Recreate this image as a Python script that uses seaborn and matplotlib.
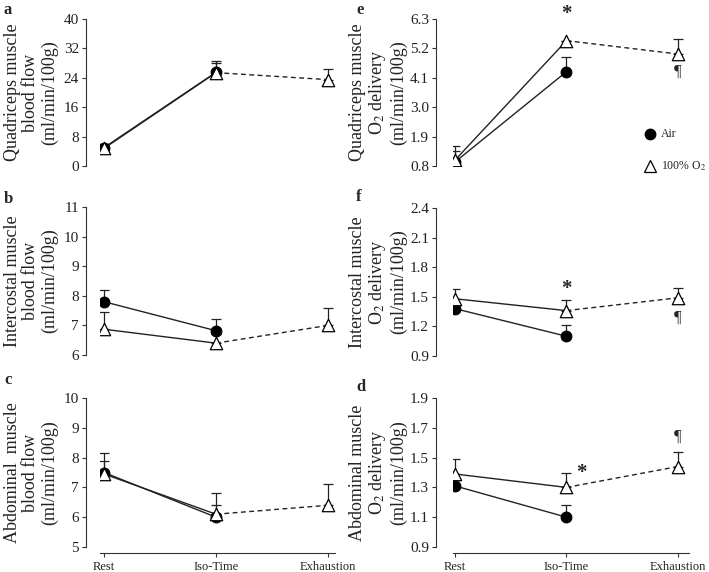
import numpy as np
import pandas as pd
import matplotlib
matplotlib.use("Agg")
import matplotlib.pyplot as plt
import seaborn as sns

sns.set_theme(style="ticks")
plt.rcParams['font.family'] = ['Liberation Serif', 'DejaVu Serif']
plt.rcParams['mathtext.fontset'] = 'stix'

stages = ["Rest", "Iso-Time", "Exhaustion"]

# panel a: quadriceps blood flow
a_air = [5.0, 25.5]
a_air_err = [1.0, 3.0]
a_o2 = [4.8, 25.4, 23.5]
a_o2_err = [1.3, 2.5, 3.0]
# panel b: intercostal blood flow
b_air = [7.8, 6.82]
b_air_err = [0.4, 0.4]
b_o2 = [6.87, 6.4, 7.0]
b_o2_err = [0.58, 0.3, 0.6]
# panel c: abdominal blood flow
c_air = [7.5, 6.0]
c_air_err = [0.4, 0.4]
c_o2 = [7.45, 6.1, 6.4]
c_o2_err = [0.7, 0.7, 0.7]
# panel e: quadriceps O2 delivery
e_air = [0.95, 4.33]
e_air_err = [0.4, 0.54]
e_o2 = [1.02, 5.49, 4.99]
e_o2_err = [0.53, 0.0, 0.55]
# panel f: intercostal O2 delivery
f_air = [1.38, 1.10]
f_air_err = [0.0, 0.11]
f_o2 = [1.48, 1.36, 1.49]
f_o2_err = [0.10, 0.11, 0.10]
# panel d: abdominal O2 delivery
d_air = [1.31, 1.10]
d_air_err = [0.04, 0.08]
d_o2 = [1.39, 1.30, 1.44]
d_o2_err = [0.10, 0.10, 0.10]

W, H = 709, 572
fig = plt.figure(figsize=(W / 100, H / 100), dpi=100)

def px_axes(x0, x1, ytop, ybot):
    return fig.add_axes([x0 / W, 1 - ybot / H, (x1 - x0) / W, (ybot - ytop) / H])

panels = [
    ("a", a_air, a_air_err, a_o2, a_o2_err, [0, 8, 16, 24, 32, 40], "{:g}",
     "Quadriceps muscle\nblood flow\n(ml/min/100g)", (100, 335, 19, 166), 86, (-0.036, 2.0625), False),
    ("b", b_air, b_air_err, b_o2, b_o2_err, [6, 7, 8, 9, 10, 11], "{:g}",
     "Intercostal muscle\nblood flow\n(ml/min/100g)", (100, 335, 207, 355), 86, (-0.036, 2.0625), False),
    ("c", c_air, c_air_err, c_o2, c_o2_err, [5, 6, 7, 8, 9, 10], "{:g}",
     "Abdominal  muscle\nblood flow\n(ml/min/100g)", (100, 335, 398, 547), 86, (-0.036, 2.0625), True),
    ("e", e_air, e_air_err, e_o2, e_o2_err, [0.8, 1.9, 3.0, 4.1, 5.2, 6.3], "{:.1f}",
     "Quadriceps muscle\nO$_2$ delivery\n(ml/min/100g)", (453, 689, 19, 166), 436, (-0.018, 2.099), False),
    ("f", f_air, f_air_err, f_o2, f_o2_err, [0.9, 1.2, 1.5, 1.8, 2.1, 2.4], "{:.1f}",
     "Intercostal muscle\nO$_2$ delivery\n(ml/min/100g)", (453, 689, 208, 356), 436, (-0.018, 2.099), False),
    ("d", d_air, d_air_err, d_o2, d_o2_err, [0.9, 1.1, 1.3, 1.5, 1.7, 1.9], "{:.1f}",
     "Abdominal muscle\nO$_2$ delivery\n(ml/min/100g)", (453, 689, 398, 547), 436, (-0.018, 2.099), True),
]

axes = {}
for (letter, air, air_err, o2, o2_err, yt, fmt, ylab, geom, spx, xl, bottom) in panels:
    x0, x1, yt0, yb0 = geom
    ax = px_axes(x0, x1, yt0, yb0)
    axes[letter] = ax
    ax.set_facecolor('none')
    xa = np.arange(len(air))
    xo = np.arange(len(o2))
    lc = '#222222'
    ax.errorbar(xa, air, yerr=[np.zeros(len(air)), air_err], fmt='none',
                ecolor=lc, elinewidth=0.9, capsize=3.5, capthick=0.9, zorder=2)
    ax.errorbar(xo, o2, yerr=[np.zeros(len(o2)), o2_err], fmt='none',
                ecolor=lc, elinewidth=0.9, capsize=3.5, capthick=0.9, zorder=2)
    sns.lineplot(x=xa, y=air, ax=ax, color=lc, lw=1.0, zorder=3)
    sns.lineplot(x=xo[:2], y=o2[:2], ax=ax, color=lc, lw=1.0, zorder=3)
    sns.lineplot(x=xo[1:], y=o2[1:], ax=ax, color=lc, lw=1.0, linestyle=(0, (3.5, 2.5)), zorder=3)
    sns.scatterplot(x=xa, y=air, ax=ax, marker='o', s=60, color='black',
                    edgecolor='black', linewidth=0.8, zorder=4)
    sns.scatterplot(x=xo, y=o2, ax=ax, marker='^', s=80, facecolor='white',
                    edgecolor='black', linewidth=0.9, zorder=5)
    ax.set_xlim(*xl)
    ax.set_ylim(yt[0], yt[-1])
    ax.set_yticks(yt)
    ax.set_yticklabels([fmt.format(v) for v in yt], fontsize=9, color='#222222')
    ax.tick_params(axis='y', length=3, width=0.8, pad=2, colors='#333333', labelcolor='#222222')
    ax.spines['right'].set_visible(False)
    ax.spines['top'].set_visible(False)
    ax.spines['left'].set_position(('axes', -(x0 - spx) / (x1 - x0)))
    ax.spines['left'].set_color('#333333')
    ax.spines['left'].set_linewidth(0.8)
    if bottom:
        ax.spines['bottom'].set_position(('axes', -6 / (yb0 - yt0)))
        ax.spines['bottom'].set_color('#333333')
        ax.spines['bottom'].set_linewidth(0.8)
        ax.set_xticks([0, 1, 2])
        ax.set_xticklabels(stages, fontsize=9, color='#222222')
        ax.tick_params(axis='x', length=3, width=0.8, pad=3, colors='#333333', labelcolor='#222222')
    else:
        ax.spines['bottom'].set_visible(False)
        ax.set_xticks([])
    ax.set_xlabel("")
    ax.set_ylabel("")
    lx = 31 if spx < 200 else 378
    fig.text(lx / W, 1 - ((yt0 + yb0) / 2) / H, ylab, rotation=90, ha='center', va='center',
             fontsize=13, linespacing=1.1, color='#222222')
    lpx = 4 if spx < 200 else 356
    lpy = {"a": 10, "b": 199, "c": 380, "e": 10, "f": 197, "d": 387}[letter]
    fig.text(lpx / W, 1 - lpy / H, letter, fontsize=12, fontweight='bold', ha='left', va='center')

# annotations
axes['e'].text(1, 6.50, "*", fontsize=15, fontweight='bold', ha='center', va='center', clip_on=False)
axes['e'].text(2, 4.32, "¶", fontsize=12, ha='center', va='center', clip_on=False)
axes['f'].text(1, 1.58, "*", fontsize=15, fontweight='bold', ha='center', va='center', clip_on=False)
axes['f'].text(2, 1.29, "¶", fontsize=12, ha='center', va='center', clip_on=False)
axes['d'].text(1.13, 1.40, "*", fontsize=15, fontweight='bold', ha='center', va='center', clip_on=False)
axes['d'].text(2, 1.64, "¶", fontsize=12, ha='center', va='center', clip_on=False)

# legend
fig.lines.append(plt.Line2D([650 / W], [1 - 134 / H], marker='o', markersize=7.5, color='black',
                            transform=fig.transFigure))
fig.lines.append(plt.Line2D([650 / W], [1 - 166 / H], marker='^', markersize=9, markerfacecolor='white',
                            markeredgecolor='black', markeredgewidth=0.9, color='black',
                            transform=fig.transFigure))
fig.text(661 / W, 1 - 134 / H, "Air", fontsize=8.5, ha='left', va='center', color='#222222')
fig.text(661 / W, 1 - 166 / H, "100% O$_2$", fontsize=8.5, ha='left', va='center', color='#222222')

fig.savefig("out.png", dpi=100, facecolor='white')
